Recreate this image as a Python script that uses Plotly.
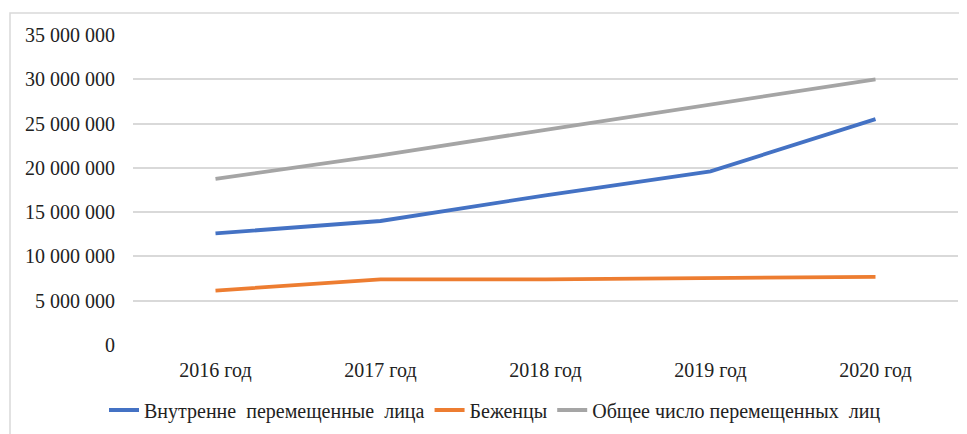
import plotly.graph_objects as go

categories = ["2016 год", "2017 год", "2018 год", "2019 год", "2020 год"]
idp = [12600000, 14000000, 16900000, 19600000, 25500000]
refugees = [6150000, 7400000, 7400000, 7500000, 7700000]
total = [18750000, 21400000, 24300000, 27200000, 30000000]
y_ticks = [0, 5000000, 10000000, 15000000, 20000000, 25000000, 30000000, 35000000]
y_labels = ["0", "5 000 000", "10 000 000", "15 000 000", "20 000 000", "25 000 000", "30 000 000", "35 000 000"]

names = ["Внутренне\u00a0 перемещенные\u00a0 лица", "Беженцы", "Общее число перемещенных\u00a0 лиц"]
colors = ["#4472C4", "#ED7D31", "#A5A5A5"]

fig = go.Figure()
for name, vals, c in zip(names, [idp, refugees, total], colors):
    fig.add_trace(go.Scatter(x=categories, y=vals, mode="lines", name=name,
                             line=dict(color=c, width=3.8)))

# page body has an 8px margin; positions below are in window pixels
OFF = 8
W, H = 967, 434
ml, mr, mt, mb = 125, 17, 27, 97
pw, ph = W - ml - mr, H - mt - mb

def px2paper(x, y):
    return (x - OFF - ml) / pw, (H - mb - (y - OFF)) / ph

x0, y0 = px2paper(10, 13)
x1, y1 = px2paper(990, 460)

fig.update_layout(
    width=W, height=H,
    margin=dict(l=ml, r=mr, t=mt, b=mb),
    paper_bgcolor="white", plot_bgcolor="white",
    font=dict(family="Liberation Serif", size=20, color="#222"),
    showlegend=True,
    legend=dict(orientation="h", x=px2paper(495, 0)[0], xanchor="center",
                y=px2paper(0, 410)[1], yanchor="middle",
                font=dict(size=20), tracegroupgap=0),
    xaxis=dict(showgrid=False, showline=False, zeroline=False, ticks="", ticklabelstandoff=11,
               range=[-0.5, 4.5]),
    yaxis=dict(range=[0, 35000000], tickvals=y_ticks, ticktext=y_labels, showgrid=True,
               gridcolor="#D9D9D9", gridwidth=1.5, zeroline=False, showline=False, ticks="",
               ticklabelstandoff=17),
    shapes=[dict(type="rect", xref="paper", yref="paper", x0=x0, y0=y0, x1=x1, y1=y1,
                 line=dict(color="#D9D9D9", width=1.5), fillcolor="rgba(0,0,0,0)", layer="below")],
)
fig.write_html("out.html")
